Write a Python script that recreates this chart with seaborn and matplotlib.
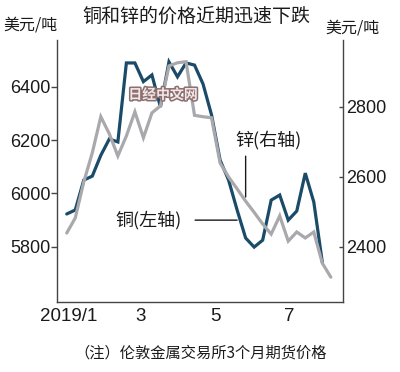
import numpy as np
import pandas as pd
import matplotlib
matplotlib.use("Agg")
import matplotlib.pyplot as plt
import matplotlib.patheffects as pe
import seaborn as sns

# ---------------- data ----------------
title = "铜和锌的价格近期迅速下跌"
unit_label = "美元/吨"
note = "（注）伦敦金属交易所3个月期货价格"
copper_label = "铜(左轴)"
zinc_label = "锌(右轴)"
watermark = "日经中文网"

start_date = "2018-12-30"
copper = [5923, 5938, 6050, 6065, 6143, 6204, 6193, 6489, 6489, 6419,
          6444, 6324, 6493, 6437, 6489, 6481, 6410, 6294, 6125, 6050,
          5938, 5833, 5799, 5825, 5975, 5994, 5900, 5934, 6076, 5968, 5742]
zinc = [2439, 2482, 2585, 2668, 2771, 2722, 2659, 2716, 2785, 2711,
        2782, 2802, 2916, 2925, 2928, 2775, 2771, 2768, 2639, 2599,
        2565, 2530, 2498, 2465, 2436, 2488, 2416, 2442, 2425, 2442, 2353, 2313]

left_ticks = [5800, 6000, 6200, 6400]
right_ticks = [2400, 2600, 2800]
x_tick_dates = ["2019-01-01", "2019-03-01", "2019-05-01", "2019-07-01"]
x_tick_labels = ["2019/1", "3", "5", "7"]

# ---------------- style ----------------
sns.set_style("white")
plt.rcParams['font.family'] = ['Noto Sans CJK SC', 'DejaVu Sans']
num_family = ['Liberation Sans Narrow', 'Liberation Sans', 'DejaVu Sans']

copper_color = "#1a4b68"
zinc_color = "#a9a9ad"
spine_color = "#444444"
text_color = "#1a1a1a"

d0 = pd.Timestamp(start_date)
dates = pd.date_range(d0, periods=len(zinc), freq="7D")
df_c = pd.DataFrame({"date": dates[:len(copper)], "price": copper})
df_z = pd.DataFrame({"date": dates, "price": zinc})

fig = plt.figure(figsize=(4.0, 3.72), dpi=100)
ax = fig.add_axes([0.1425, 0.188, 0.715, 0.7045])
ax2 = ax.twinx()

sns.lineplot(data=df_c, x="date", y="price", ax=ax, color=copper_color,
             linewidth=2.3, solid_joinstyle="miter")
sns.lineplot(data=df_z, x="date", y="price", ax=ax2, color=zinc_color,
             linewidth=2.3, solid_joinstyle="miter")

ax.set_xlim(d0 - pd.Timedelta(days=8), d0 + pd.Timedelta(days=227))
ax.set_ylim(5593, 6575)
ax2.set_ylim(2242, 2990)

ax.set_xlabel("")
ax.set_ylabel("")
ax2.set_xlabel("")
ax2.set_ylabel("")

ax.set_xticks(pd.to_datetime(x_tick_dates))
ax.set_xticklabels(x_tick_labels)
ax.set_yticks(left_ticks)
ax.set_yticklabels([str(v) for v in left_ticks])
ax2.set_yticks(right_ticks)
ax2.set_yticklabels([str(v) for v in right_ticks])

for a in (ax, ax2):
    a.spines['top'].set_visible(False)
    for s in a.spines.values():
        s.set_color(spine_color)
        s.set_linewidth(1.0)
ax.spines['right'].set_visible(False)
ax2.spines['left'].set_visible(False)
ax2.spines['bottom'].set_visible(False)

ax.tick_params(axis='y', direction='out', length=4, width=1, color=spine_color,
               pad=0.5, labelsize=13, labelcolor=text_color)
ax.tick_params(axis='x', direction='in', length=4, width=1, color=spine_color,
               pad=4, labelsize=13.5, labelcolor=text_color)
ax2.tick_params(axis='y', direction='in', length=3, width=1, color=spine_color,
                pad=2.5, labelsize=13, labelcolor=text_color)

for lbl in ax.get_xticklabels() + ax.get_yticklabels() + ax2.get_yticklabels():
    lbl.set_family(num_family)

ax.grid(False)
ax2.grid(False)

# ---------------- texts ----------------
W, H = 400.0, 372.0
fig.text(196 / W, 1 - 16 / H, title, ha='center', va='center', fontsize=13.7,
         color=text_color)
fig.text(3 / W, 1 - 25 / H, unit_label, ha='left', va='center', fontsize=11.5,
         color=text_color)
fig.text(325 / W, 1 - 28 / H, unit_label, ha='left', va='center', fontsize=11.5,
         color=text_color)
fig.text(201 / W, 1 - 353 / H, note, ha='center', va='center', fontsize=11,
         color=text_color)

# watermark
fig.text(163 / W, 1 - 95 / H, watermark, ha='center', va='center', fontsize=10,
         fontweight='bold', color='#f2e6e6',
         path_effects=[pe.withStroke(linewidth=2.2, foreground='#8c6f70')], zorder=10)

# series labels with leader lines
cu_anchor = (dates[20], 5900)
ax.annotate("", xy=cu_anchor, xytext=(-42, 0), textcoords='offset pixels',
            arrowprops=dict(arrowstyle='-', color=text_color, lw=1.0,
                            shrinkA=0, shrinkB=0))
ax.annotate(copper_label, xy=cu_anchor, xytext=(-89, 0), textcoords='offset pixels',
            ha='center', va='center', fontsize=13, color=text_color)

zn_anchor = (dates[21], zinc[21])
ax2.annotate("", xy=zn_anchor, xytext=(0, 45), textcoords='offset pixels',
             arrowprops=dict(arrowstyle='-', color=text_color, lw=1.0,
                             shrinkA=0, shrinkB=3))
ax2.annotate(zinc_label, xy=zn_anchor, xytext=(23, 61), textcoords='offset pixels',
             ha='center', va='center', fontsize=13, color=text_color)

fig.savefig("out.png", dpi=100, facecolor="white")
